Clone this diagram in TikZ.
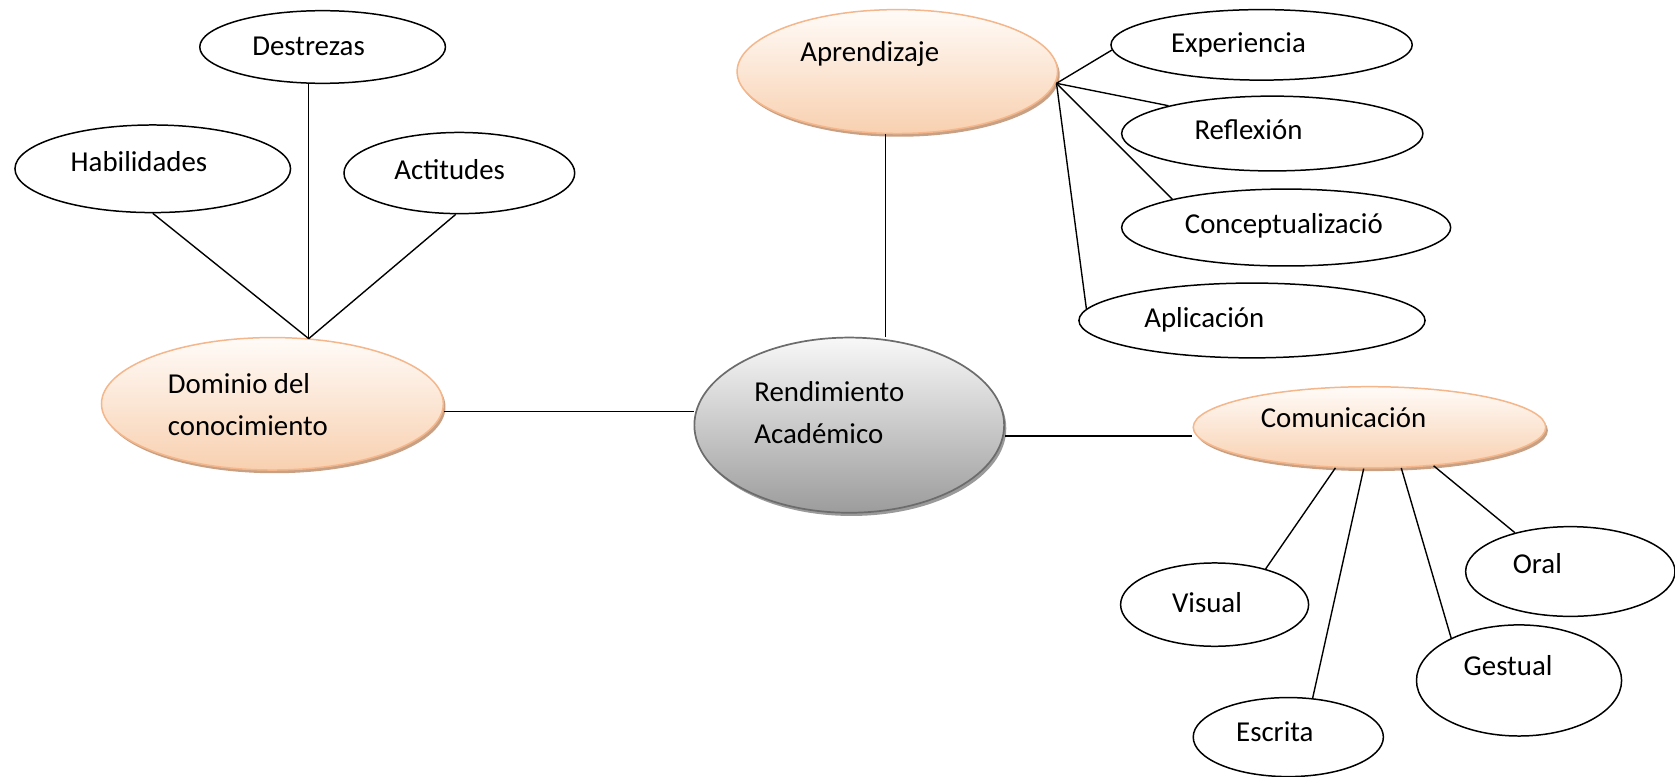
\documentclass[tikz,border=0pt]{standalone}
\usepackage{fontspec}
\setmainfont{Carlito}
\usetikzlibrary{shapes.geometric,shadows}
\definecolor{peachtop}{HTML}{FFFBF8}
\definecolor{peachbot}{HTML}{F8D0B0}
\definecolor{peachline}{HTML}{F4B68A}
\definecolor{peachshadow}{HTML}{C8A084}
\definecolor{graytop}{HTML}{F8F8F8}
\definecolor{graybot}{HTML}{9C9C9C}
\definecolor{grayline}{HTML}{6C6C6C}
\definecolor{grayshadow}{HTML}{9A9A9A}
\begin{document}
\begin{tikzpicture}[x=1pt,y=-1pt,
  leaf/.style={ellipse, draw=black, line width=1.4pt, fill=white, inner sep=0pt},
  mainpeach/.style={ellipse, draw=peachline, line width=1.4pt, top color=peachtop, bottom color=peachbot, inner sep=0pt,
     drop shadow={shadow xshift=2pt, shadow yshift=-3pt, fill=peachshadow, opacity=1}},
  maingray/.style={ellipse, draw=grayline, line width=1.6pt, top color=graytop, bottom color=graybot, inner sep=0pt,
     drop shadow={shadow xshift=2pt, shadow yshift=-3pt, fill=grayshadow, opacity=1}},
  txt/.style={font=\fontsize{27}{39}\selectfont, inner sep=0pt, anchor=base west},
  txttwo/.style={font=\fontsize{27}{39}\selectfont, inner sep=0pt, anchor=west, align=left},
  link/.style={line width=1.3pt, draw=black}]
\clip (0,0) rectangle (1568,727);
\fill[white] (0,0) rectangle (1568,727);

% central and main nodes
\node[mainpeach, minimum width=320, minimum height=124] (dom) at (255,378) {};
\node[maingray, minimum width=290, minimum height=164] (ren) at (795,398) {};
\node[mainpeach, minimum width=300, minimum height=116] (apr) at (840,67) {};
\node[mainpeach, minimum width=330, minimum height=76] (com) at (1282,400) {};

% leaf nodes
\node[leaf, minimum width=230, minimum height=68] (des) at (302,44) {};
\node[leaf, minimum width=258, minimum height=82] (hab) at (143,158) {};
\node[leaf, minimum width=216, minimum height=76] (act) at (430,162) {};
\node[leaf, minimum width=282, minimum height=66] (exp) at (1181,42) {};
\node[leaf, minimum width=282, minimum height=70] (ref) at (1191,125) {};
\node[leaf, minimum width=308, minimum height=72] (con) at (1204,213) {};
\node[leaf, minimum width=324, minimum height=70] (apl) at (1172,300) {};
\node[leaf, minimum width=176, minimum height=78] (vis) at (1137,566) {};
\node[leaf, minimum width=178, minimum height=74] (esc) at (1206,690) {};
\node[leaf, minimum width=192, minimum height=104] (ges) at (1422,637) {};
\node[leaf, minimum width=196, minimum height=84] (ora) at (1470,535) {};

% texts
\node[txt] (desT) at (236,52) {Destrezas};
\node[txt] (habT) at (66,161) {Habilidades};
\node[txt] (actT) at (369,168) {Actitudes};
\node[txttwo] (domT) at (157,379) {Dominio del\\conocimiento};
\node[txttwo] (renT) at (706,386) {Rendimiento\\Académico};
\node[txt] (aprT) at (749,58) {Aprendizaje};
\node[txt] (expT) at (1096,49) {Experiencia};
\node[txt] (refT) at (1118,131) {Reflexión};
\node[txt] (conT) at (1109,219) {Conceptualizació};
\node[txt] (aplT) at (1071,307) {Aplicación};
\node[txt] (comT) at (1180,400) {Comunicación};
\node[txt] (visT) at (1097,573) {Visual};
\node[txt] (oraT) at (1416,537) {Oral};
\node[txt] (gesT) at (1370,632) {Gestual};
\node[txt] (escT) at (1157,694) {Escrita};

% connectors
\coordinate (h1) at (289,317);
\draw[link] (des.south -| h1) -- (h1);
\draw[link] (hab.south) -- (h1);
\draw[link] (act.265) -- (h1);
\draw[link] (dom.east |- 0,385) -- (ren.west |- 0,385);
\draw[link] (apr.south -| 829,0) -- (ren.north -| 829,0);
\draw[link] (ren.east |- 0,408) -- (com.west |- 0,408);
\coordinate (h2) at (989,78);
\draw[link] (h2) -- (exp.182);
\draw[link] (h2) -- (ref.165);
\draw[link] (h2) -- (con.166);
\draw[link] (h2) -- (apl.176);
\draw[link] (com.230) -- (vis.35);
\draw[link] (com.262) -- (esc.58);
\draw[link] (com.308) -- (ges.148);
\draw[link] (com.329) -- (ora.145);
\end{tikzpicture}
\end{document}
